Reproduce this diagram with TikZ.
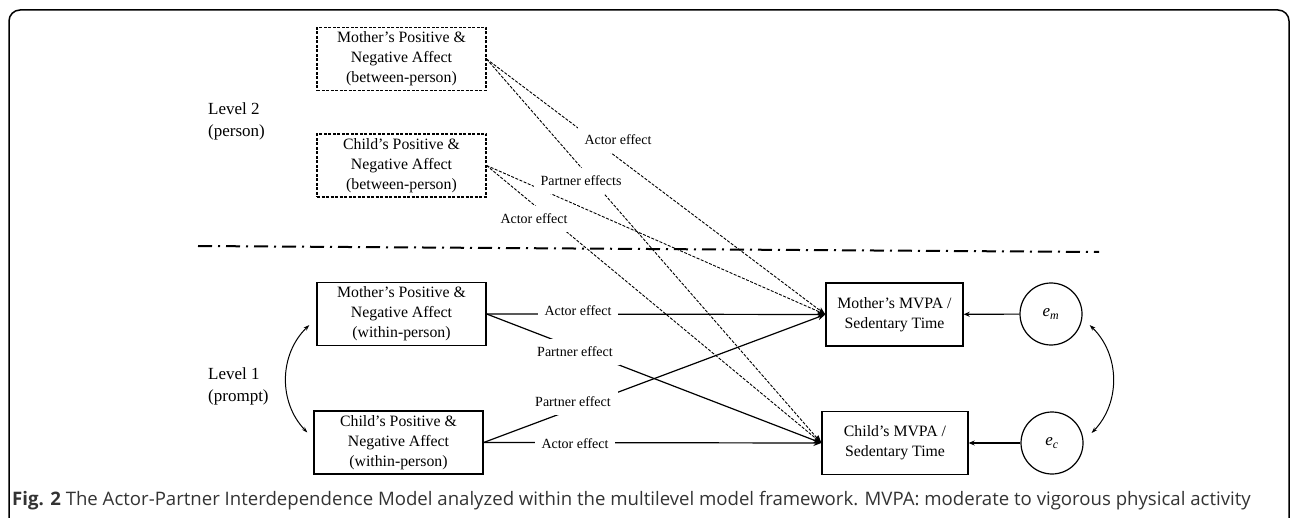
\documentclass[tikz,border=0pt]{standalone}
\usepackage{fontspec}
\setmainfont{Liberation Serif}
\newfontfamily\capfont{Open Sans}
\usetikzlibrary{arrows.meta}
\begin{document}
\begin{tikzpicture}[x=1pt,y=-1pt,
    box/.style={draw,line width=1.3pt,align=center,inner sep=0pt,minimum height=63pt,font=\fontsize{15.8}{20}\selectfont},
    dbox/.style={box,line width=1.1pt,dash pattern=on 3pt off 1.5pt},
    lab/.style={fill=white,inner xsep=7pt,inner ysep=8pt,font=\fontsize{14}{16}\selectfont},
    lev/.style={align=left,anchor=west,inner sep=0pt,font=\fontsize{17}{22}\selectfont},
    eff/.style={line width=1.2pt,-{Stealth[length=8pt,width=6pt]}},
    deff/.style={line width=0.9pt,dash pattern=on 3pt off 1.5pt,-{Stealth[length=8pt,width=6pt]}},
    err/.style={draw,circle,line width=1.2pt,minimum size=62pt,inner sep=0pt,font=\fontsize{17}{20}\selectfont},
    cov/.style={line width=1pt,{Stealth[length=6pt,width=4pt]}-{Stealth[length=6pt,width=4pt]}}]
\useasboundingbox (0,0) rectangle (1292,518);
\draw[line width=1.5pt,rounded corners=11pt] (9,540) -- (9,10) -- (1289,10) -- (1289,540);

\node[dbox,minimum width=169pt] (m2) at (401.5,59) {Mother’s Positive \&\\Negative Affect\\(between-person)};
\node[dbox,minimum width=169pt] (c2) at (401.5,165.5) {Child’s Positive \&\\Negative Affect\\(between-person)};
\node[box,minimum width=169pt] (m1) at (401.5,314) {Mother’s Positive \&\\Negative Affect\\(within-person)};
\node[box,minimum width=169pt] (c1) at (398.5,442.5) {Child’s Positive \&\\Negative Affect\\(within-person)};
\node[box,minimum width=137pt] (my) at (894.5,314.5) {Mother’s MVPA /\\Sedentary Time};
\node[box,minimum width=146pt] (cy) at (895,443) {Child’s MVPA /\\Sedentary Time};
\node[err] (em) at (1051,314) {\itshape e\textsubscript{m}};
\node[err] (ec) at (1052,443) {\itshape e\textsubscript{c}};

\node[lev] (lv2) at (208,121) {Level 2\\(person)};
\node[lev] (lv1) at (208,386) {Level 1\\(prompt)};

\draw[line width=2pt,dash pattern=on 14pt off 6pt on 2pt off 6pt] (198,246) -- (1099,252);

\draw[deff] (m2.east) -- (my.west);
\draw[deff] (m2.east) -- (cy.west);
\draw[deff] (c2.east) -- (my.west);
\draw[deff] (c2.east) -- (cy.west);
\node[lab] (a2m) at (618,140) {Actor effect};
\node[lab] (p2) at (581,181) {Partner effects};
\node[lab] (a2c) at (534,219) {Actor effect};

\draw[eff] (m1.east) -- (my.west);
\draw[eff] (m1.east) -- (cy.west);
\draw[eff] (c1.east) -- (my.west);
\draw[eff] (c1.east) -- (cy.west);
\node[lab] (a1m) at (578,311) {Actor effect};
\node[lab] (p1m) at (575,352) {Partner effect};
\node[lab] (p1c) at (573,402) {Partner effect};
\node[lab] (a1c) at (575,444) {Actor effect};

\draw[eff,-{Stealth[length=6pt,width=5pt]}] (em) -- (my);
\draw[eff,-{Stealth[length=6pt,width=5pt]}] (ec) -- (cy);
\draw[cov] ([shift={(-7,11)}]m1.west) to[bend right=45] ([shift={(-6,-10)}]c1.west);
\draw[cov] ([shift={(7,11)}]em.east) to[bend left=45] ([shift={(8,-10)}]ec.east);

\node[anchor=west,inner sep=0pt,text=black!80,font=\capfont\fontsize{18.6}{22}\selectfont] (cap) at (12,501) {\textbf{Fig. 2} The Actor-Partner Interdependence Model analyzed within the multilevel model framework. MVPA: moderate to vigorous physical activity};
\end{tikzpicture}
\end{document}
